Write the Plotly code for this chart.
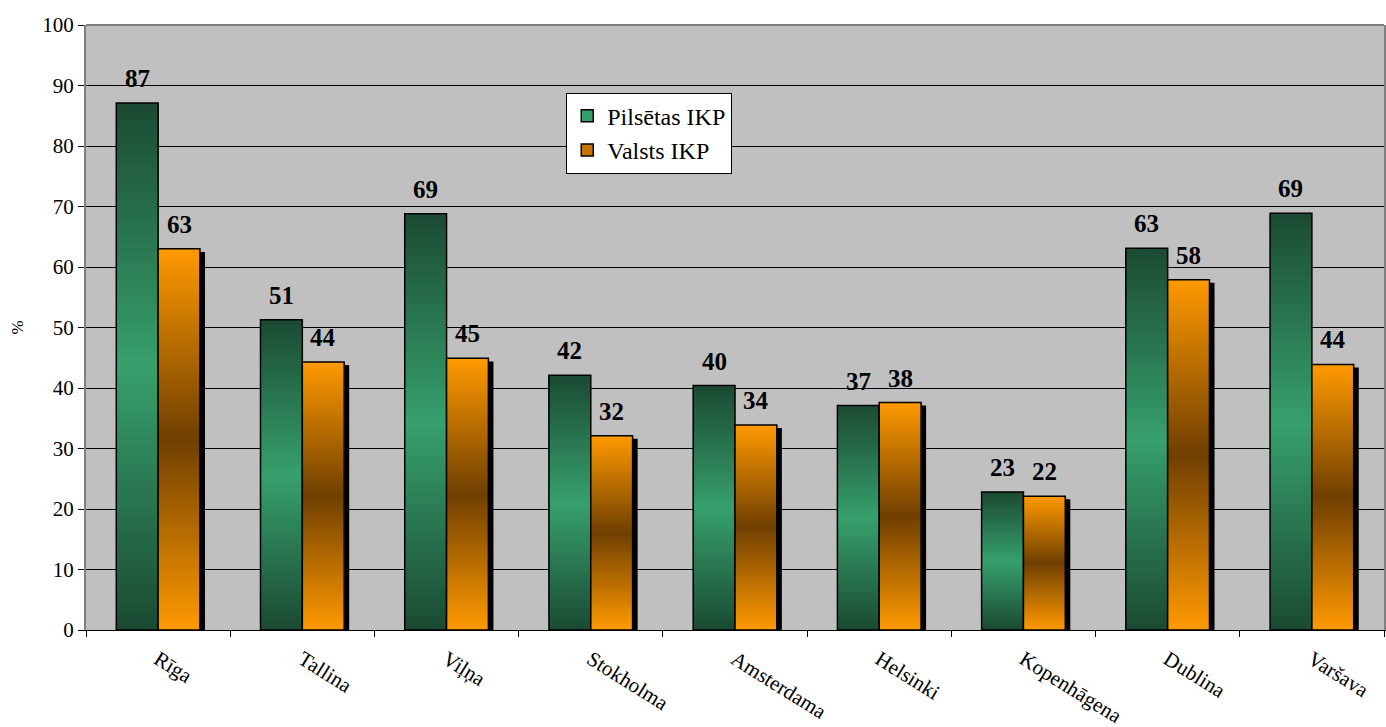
import plotly.graph_objects as go

# ---- data ----
categories = ["Rīga", "Tallina", "Viļņa", "Stokholma", "Amsterdama",
              "Helsinki", "Kopenhāgena", "Dublina", "Varšava"]
pilsetas_ikp = [87.1, 51.3, 68.8, 42.1, 40.4, 37.1, 22.8, 63.1, 68.9]
valsts_ikp = [63.0, 44.3, 44.9, 32.1, 33.9, 37.6, 22.1, 57.9, 43.9]
series_names = ["Pilsētas IKP", "Valsts IKP"]
y_ticks = list(range(0, 101, 10))

# ---- style ----
SERIF = "Liberation Serif, Times New Roman, serif"
N = 60
BW = 0.29
GREEN_EDGE, GREEN_MID = (27, 74, 51), (54, 160, 108)
ORANGE_EDGE, ORANGE_MID = (255, 153, 0), (112, 64, 0)


def grad(edge, mid, t):
    f = 1 - abs(2 * t - 1)
    c = [round(e + (m - e) * f) for e, m in zip(edge, mid)]
    return "rgb(%d,%d,%d)" % tuple(c)


fig = go.Figure()


def add_gradient_bar(values, offset, edge, mid):
    # each slice runs from its own base to the bar top; later slices cover
    # earlier ones, so there are no seams between them
    for k in range(N):
        t = (k + 0.5) / N
        fig.add_trace(go.Bar(
            x=categories, y=[v - k * v / N for v in values],
            base=[k * v / N for v in values],
            offset=offset, width=BW,
            marker=dict(color=grad(edge, mid, t), line=dict(width=0)),
            showlegend=False, hoverinfo="skip"))
    fig.add_trace(go.Bar(
        x=categories, y=values, offset=offset, width=BW,
        marker=dict(color="rgba(0,0,0,0)", line=dict(color="black", width=1.5)),
        showlegend=False, hoverinfo="skip"))


# green (city) bars
add_gradient_bar(pilsetas_ikp, -BW, GREEN_EDGE, GREEN_MID)
# shadow of orange bars
fig.add_trace(go.Bar(
    x=categories, y=[v - 0.5 for v in valsts_ikp], offset=0.035, width=BW,
    marker=dict(color="black", line=dict(width=0)),
    showlegend=False, hoverinfo="skip"))
# orange (country) bars
add_gradient_bar(valsts_ikp, 0, ORANGE_EDGE, ORANGE_MID)

# legend entries
for name, col in [(series_names[0], grad(GREEN_EDGE, GREEN_MID, 0.5)),
                  (series_names[1], grad(ORANGE_EDGE, ORANGE_MID, 0.2))]:
    fig.add_trace(go.Bar(
        x=[categories[0]], y=[None], name=name,
        marker=dict(color=col, line=dict(color="black", width=1.5)),
        hoverinfo="skip"))

# data labels
ann = []
for vals, shift in [(pilsetas_ikp, -21), (valsts_ikp, 21)]:
    for cat, v in zip(categories, vals):
        ann.append(dict(x=cat, y=v, text="<b>%d</b>" % round(v), showarrow=False,
                        xref="x", yref="y", yanchor="bottom", xshift=shift, yshift=9,
                        font=dict(family=SERIF, size=25, color="black")))

fig.update_layout(
    width=1386, height=727,
    margin=dict(l=86, r=2, t=25, b=97),
    paper_bgcolor="white", plot_bgcolor="#C0C0C0",
    barmode="overlay",
    annotations=ann,
    showlegend=True,
    legend=dict(x=0.370, y=0.888, xanchor="left", yanchor="top",
                bgcolor="white", bordercolor="black", borderwidth=1,
                font=dict(family=SERIF, size=24, color="black"),
                traceorder="normal", itemwidth=30),
    shapes=[dict(type="line", xref="paper", yref="paper", x0=0, x1=1, y0=1, y1=1,
                 line=dict(color="#808080", width=2), layer="above")],
    font=dict(family=SERIF, color="black"),
)

fig.update_xaxes(
    type="category", tickson="boundaries", ticks="outside", ticklen=6,
    tickcolor="black", showline=True, linecolor="black", linewidth=1,
    showgrid=False, tickangle=32, ticklabelstandoff=8, automargin=False,
    tickfont=dict(family=SERIF, size=21, color="black"))
fig.update_yaxes(
    range=[0, 100], tickvals=y_ticks, ticks="outside", ticklen=6,
    tickcolor="black", showline=True, linecolor="#808080", linewidth=2,
    mirror=True, showgrid=True, gridcolor="black", gridwidth=1,
    zeroline=False, automargin=False,
    tickfont=dict(family=SERIF, size=21, color="black"),
    title=dict(text="%", font=dict(family=SERIF, size=17, color="black"),
               standoff=14))

fig.write_html("out.html")
